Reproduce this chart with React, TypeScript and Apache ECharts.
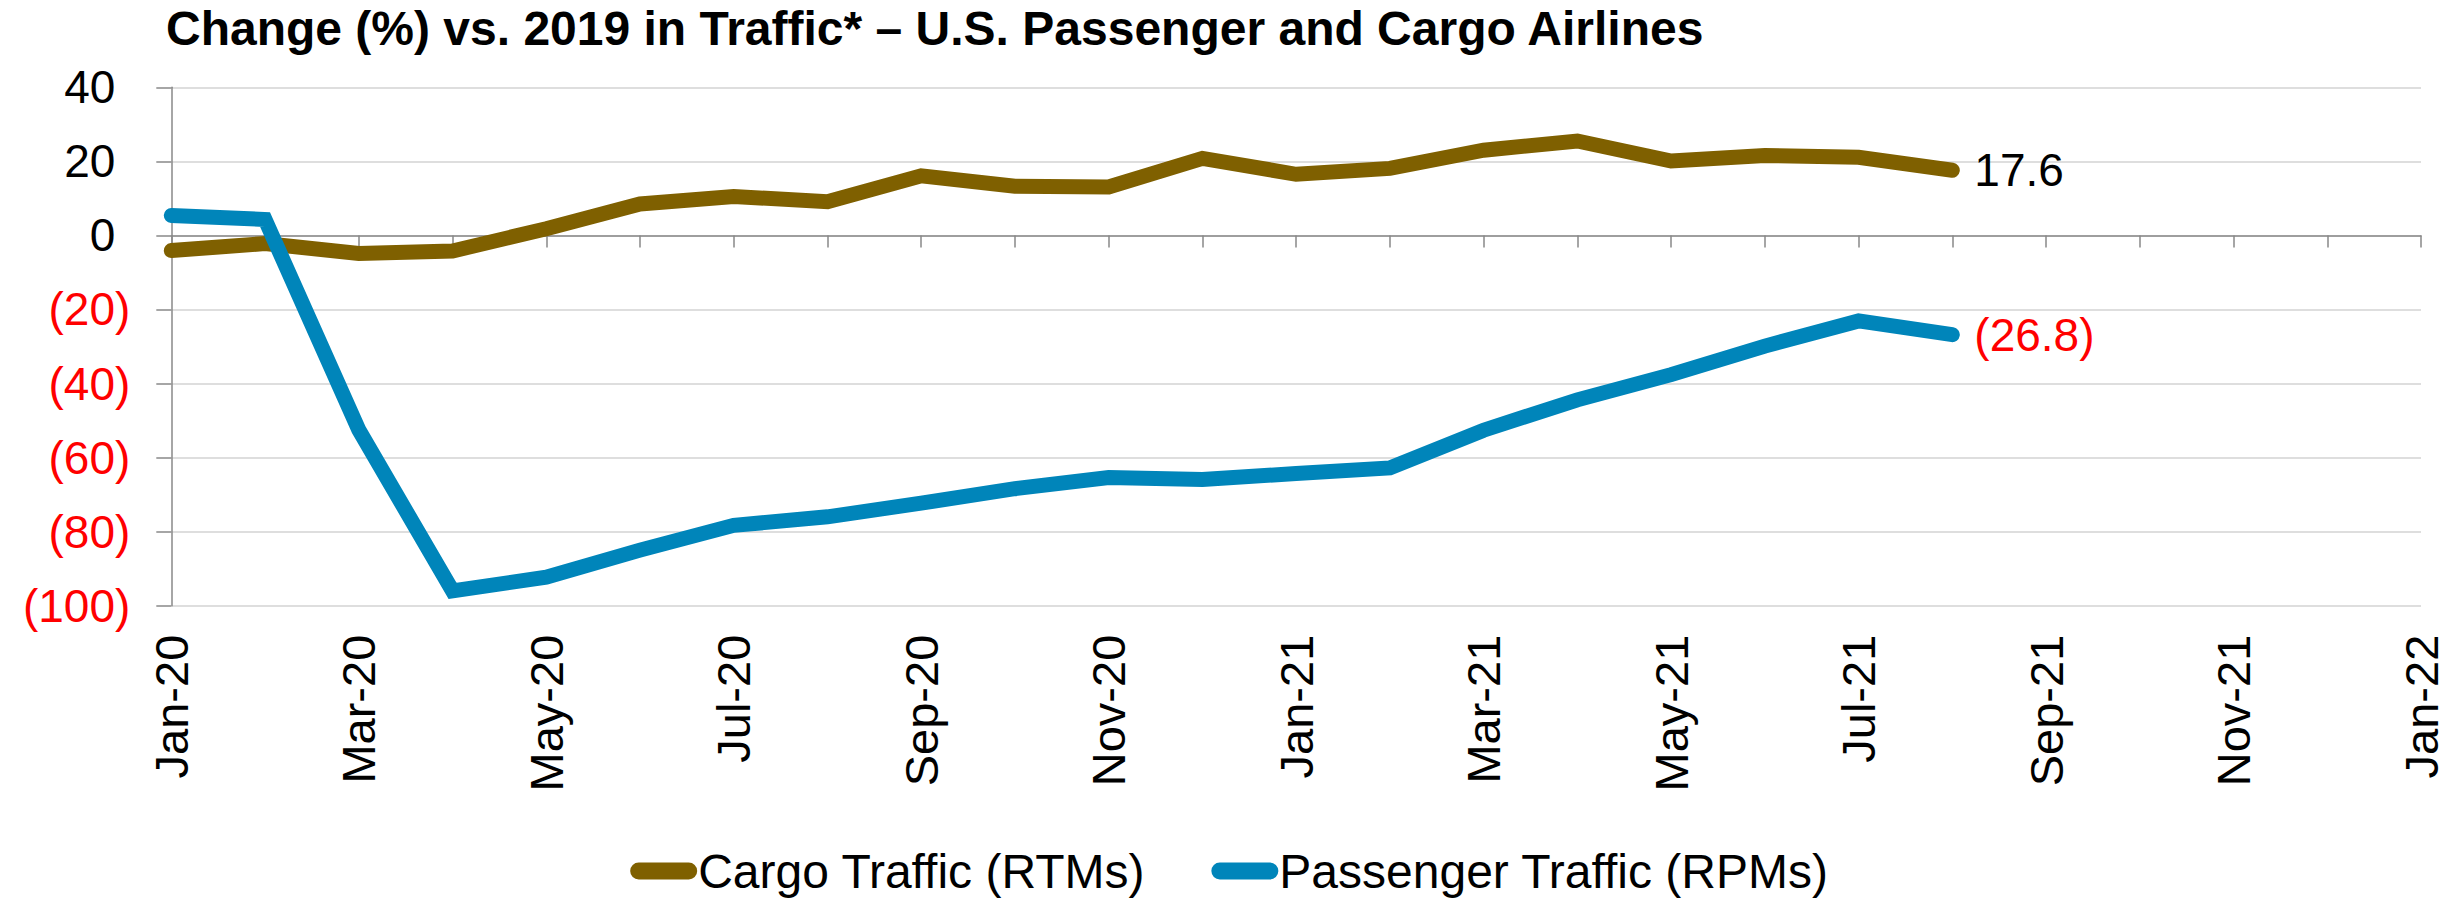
import React, { useEffect, useRef } from "react";
import * as echarts from "echarts";

const months = [
  "Jan-20", "Feb-20", "Mar-20", "Apr-20", "May-20", "Jun-20", "Jul-20", "Aug-20", "Sep-20", "Oct-20", "Nov-20", "Dec-20",
  "Jan-21", "Feb-21", "Mar-21", "Apr-21", "May-21", "Jun-21", "Jul-21", "Aug-21", "Sep-21", "Oct-21", "Nov-21", "Dec-21",
  "Jan-22",
];

const cargoTraffic = [
  -4.1, -2.2, -4.9, -4.2, 1.8, 8.5, 10.5, 9.1, 16.1, 13.3, 13.1, 20.8,
  16.5, 18.1, 23.0, 25.5, 20.1, 21.6, 21.1, 17.6,
];

const passengerTraffic = [
  5.4, 4.3, -52.5, -96.0, -92.3, -85.0, -78.3, -76.0, -72.3, -68.4, -65.4, -65.9,
  -64.3, -62.8, -52.6, -44.4, -37.6, -29.9, -23.1, -26.8,
];

const yTicks = { min: -100, max: 40, interval: 20 };

const FONT = "'Liberation Sans', Arial, Helvetica, sans-serif";
const BROWN = "#7F6000";
const BLUE = "#0085BA";
const RED = "#FF0000";

const fmtVal = (v: number) => (v < 0 ? `(${Math.abs(v).toFixed(1)})` : v.toFixed(1));

export default function App() {
  const ref = useRef<HTMLDivElement>(null);

  useEffect(() => {
    if (!ref.current) return;
    const chart = echarts.init(ref.current, null, { renderer: "svg" });
    const endLabel = (color: string) => ({
      show: true,
      distance: 22,
      fontSize: 46,
      fontFamily: FONT,
      color,
      formatter: (p: any) => {
        const v = Array.isArray(p.value) ? p.value[1] : p.value;
        return fmtVal(Number(v));
      },
    });
    chart.setOption({
      animation: false,
      backgroundColor: "#ffffff",
      title: {
        text: "Change (%) vs. 2019 in Traffic* \u2013 U.S. Passenger and Cargo Airlines",
        left: 166,
        top: 4,
        padding: 0,
        textStyle: { fontFamily: FONT, fontSize: 48, fontWeight: "bold", color: "#000" },
      },
      legend: {
        top: 841,
        left: "center",
        padding: 0,
        selectedMode: false,
        itemWidth: 67,
        itemHeight: 17,
        itemGap: 66,
        icon: "path://M8.5,0 H58.5 A8.5,8.5 0 0 1 58.5,17 H8.5 A8.5,8.5 0 0 1 8.5,0 Z",
        itemStyle: { borderWidth: 0 },
        textStyle: { fontFamily: FONT, fontSize: 48, color: "#000", lineHeight: 48, padding: [0, 0, 12, -4] },
        data: ["Cargo Traffic (RTMs)", "Passenger Traffic (RPMs)"],
      },
      grid: { left: 171.3, right: 38, top: 87.3, bottom: 294.3, containLabel: false },
      xAxis: [
        {
          type: "category",
          data: months,
          boundaryGap: false,
          position: "bottom",
          axisLine: { show: true, onZero: true, lineStyle: { color: "#898989", width: 1.5 } },
          axisTick: { show: true, interval: 0, length: 12, lineStyle: { color: "#898989", width: 1.5 } },
          axisLabel: { show: false },
          splitLine: { show: false },
        },
        {
          type: "category",
          data: months,
          boundaryGap: false,
          position: "bottom",
          axisLine: { show: false, onZero: false },
          axisTick: { show: false },
          splitLine: { show: false },
          axisLabel: {
            show: true,
            interval: 1,
            rotate: 90,
            margin: 29,
            fontSize: 47,
            fontFamily: FONT,
            color: "#000",
          },
        },
      ],
      yAxis: {
        type: "value",
        min: yTicks.min,
        max: yTicks.max,
        interval: yTicks.interval,
        axisLine: { show: true, lineStyle: { color: "#898989", width: 1.5 } },
        axisTick: { show: true, length: 15, lineStyle: { color: "#898989", width: 1.5 } },
        splitLine: { show: true, lineStyle: { color: "#D3D3D3", width: 1.5 } },
        axisLabel: {
          margin: 41,
          fontFamily: FONT,
          fontSize: 46,
          formatter: (v: number) => (v < 0 ? `{neg|(${Math.abs(v)})}` : `{pos|${v}}`),
          rich: {
            neg: { color: RED, fontSize: 46, fontFamily: FONT },
            pos: { color: "#000", fontSize: 46, fontFamily: FONT, padding: [0, 15, 0, 0] },
          },
        },
      },
      series: [
        {
          name: "Cargo Traffic (RTMs)",
          type: "line",
          xAxisIndex: 0,
          data: cargoTraffic,
          color: BROWN,
          symbol: "none",
          showSymbol: false,
          lineStyle: { width: 15, color: BROWN, cap: "round", join: "miter" },
          endLabel: endLabel("#000"),
          z: 3,
        },
        {
          name: "Passenger Traffic (RPMs)",
          type: "line",
          xAxisIndex: 0,
          data: passengerTraffic,
          color: BLUE,
          symbol: "none",
          showSymbol: false,
          lineStyle: { width: 15, color: BLUE, cap: "round", join: "miter" },
          endLabel: endLabel(RED),
          z: 4,
        },
      ],
    });
    return () => chart.dispose();
  }, []);

  return (
    <div
      ref={ref}
      style={{ position: "fixed", left: 0, top: 0, width: 2459, height: 900, background: "#fff" }}
    />
  );
}
